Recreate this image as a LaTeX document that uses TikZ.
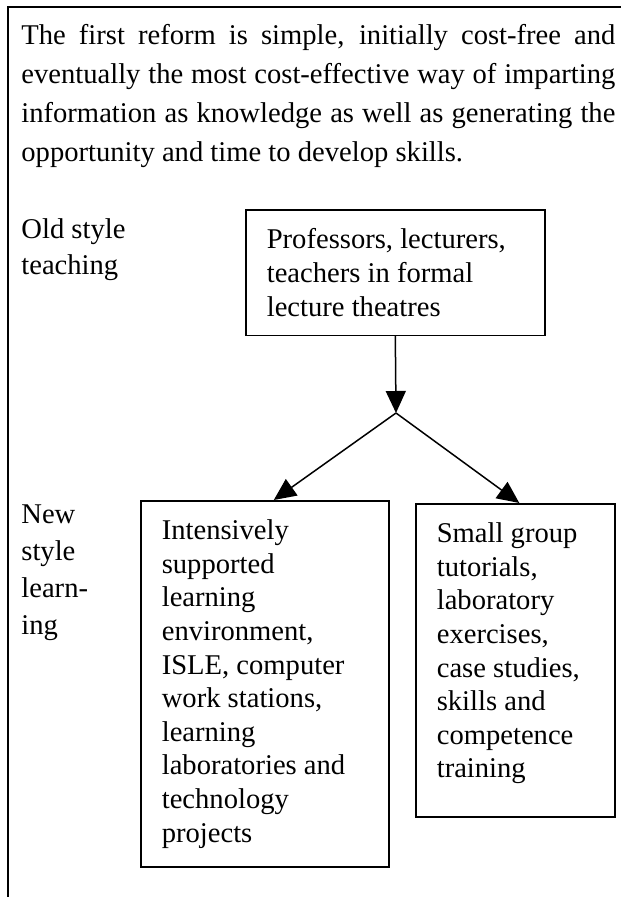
\documentclass[tikz,border=0pt]{standalone}
\usepackage{fontspec}
\setmainfont{Liberation Serif}
\usetikzlibrary{arrows.meta}

\begin{document}
\begin{tikzpicture}[x=0.5pt,y=-0.5pt,
    every node/.style={inner sep=0pt, font=\fontsize{14.3}{16.8}\selectfont},
    box/.style={draw, line width=0.8pt, anchor=north west, align=flush left,
        inner xsep=10.5pt, inner ysep=9.5pt},
    side/.style={anchor=north west, align=left, font=\fontsize{14.3}{18}\selectfont},
    arr/.style={line width=0.75pt, -{Triangle[length=11pt,width=10pt]}}
]

    \useasboundingbox (0,0) rectangle (621,897);

    % Frame
    \draw[line width=1pt] (8,897) -- (8,7) -- (621,7);

    % Introduction
    \node[anchor=north west, text width=297pt, align=justify,
        font=\fontsize{14.3}{19.5}\selectfont] (intro) at (21,24)
        {\hyphenpenalty=10000 \exhyphenpenalty=10000
        The first reform is simple, initially cost-free and\linebreak
        eventually the most cost-effective way of imparting\linebreak
        information as knowledge as well as generating the\linebreak
        opportunity and time to develop skills.};

    % Row labels
    \node[side] (oldstyle) at (21,218) {Old style\\teaching};
    \node[side, font=\fontsize{14.3}{18.6}\selectfont] (newstyle) at (21,504)
        {New\\style\\learn-\\ing};

    % Old style
    \node[box, text width=128.5pt] (lecture) at (245,209)
        {Professors, lecturers,\\teachers in formal\\lecture theatres};

    % New style
    \node[box, text width=103pt] (isle) at (140,500)
        {Intensively\\supported\\learning\\environment,\\ISLE, computer\\work stations,\\learning\\laboratories and\\technology\\projects};
    \node[box, text width=78.5pt, text depth=127.6pt] (tutorials) at (415,503)
        {Small group\\tutorials,\\laboratory\\exercises,\\case studies,\\skills and\\competence\\training};

    % Arrows
    \coordinate (split) at (396,413);
    \draw[arr] (lecture.south) -- (split);
    \foreach \target/\dx in {isle/4.5pt, tutorials/2pt}
    {
        \draw[arr] (split) -- ([xshift=\dx]\target.north);
    }

\end{tikzpicture}
\end{document}
